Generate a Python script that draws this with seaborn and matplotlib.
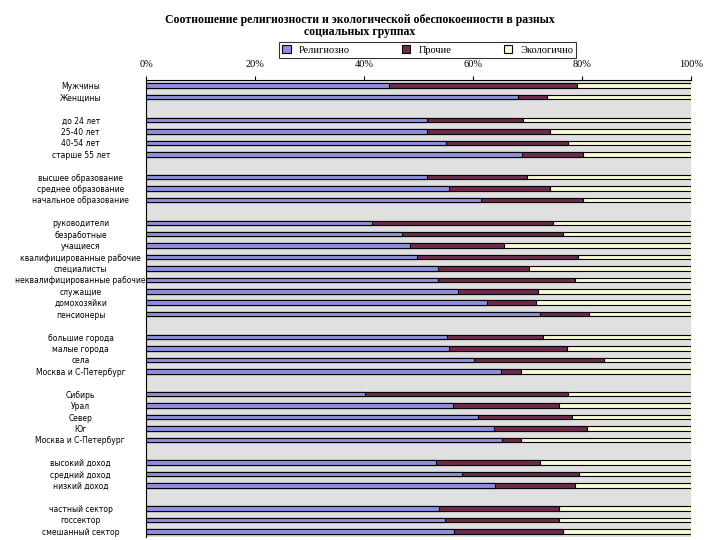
import pandas as pd
import seaborn as sns
import matplotlib.pyplot as plt

# группы (пустые строки - разделители между блоками)
groups = ['Мужчины', 'Женщины', '',
          'до 24 лет', '25-40 лет', '40-54 лет', 'старше 55 лет', ' ',
          'высшее образование', 'среднее образование', 'начальное образование', '  ',
          'руководители', 'безработные', 'учащиеся', 'квалифицированные рабочие',
          'специалисты', 'неквалифицированные рабочие', 'служащие', 'домохозяйки',
          'пенсионеры', '   ',
          'большие города', 'малые города', 'села', 'Москва и С-Петербург', '    ',
          'Сибирь', 'Урал', 'Север', 'Юг', 'Москва и С-Петербург ', '     ',
          'высокий доход', 'средний доход', 'низкий доход', '      ',
          'частный сектор', 'госсектор', 'смешанный сектор']

# доли в %, только для непустых строк
religious = [44.5, 68.2,
             51.5, 51.5, 55.0, 69.0,
             51.5, 55.6, 61.4,
             41.5, 46.9, 48.4, 49.8, 53.6, 53.6, 57.2, 62.5, 72.3,
             55.3, 55.6, 60.1, 65.1,
             40.2, 56.3, 61.0, 63.9, 65.3,
             53.3, 57.9, 64.0,
             53.8, 54.9, 56.5]
other = [34.5, 5.3,
         17.6, 22.6, 22.4, 11.2,
         18.5, 18.5, 18.8,
         33.2, 29.7, 17.3, 29.4, 16.7, 25.1, 14.7, 9.0, 8.9,
         17.6, 21.6, 24.0, 3.7,
         37.2, 19.5, 17.2, 17.0, 3.5,
         19.0, 21.6, 14.8,
         22.0, 20.9, 20.1]

names = [g for g in groups if g.strip() != '']
df = pd.DataFrame({'group': names, 'rel': religious, 'oth': other})
df['rel_oth'] = df['rel'] + df['oth']
df['total'] = 100.0

fig = plt.figure(figsize=(7.2, 5.4), dpi=100)
ax = fig.add_axes([0.2028, 0.0056, 0.7569, 0.8463])
ax.set_facecolor('#e0e0e0')

kw = dict(y='group', order=groups, orient='h', width=0.4, ax=ax,
          edgecolor='black', linewidth=0.8)
sns.barplot(data=df, x='total', color='#ffffcc', label='Экологично', **kw)
sns.barplot(data=df, x='rel_oth', color='#7a1f4f', label='Прочие', **kw)
sns.barplot(data=df, x='rel', color='#8080ef', label='Религиозно', **kw)
h, l = ax.get_legend_handles_labels()
if ax.legend_ is not None:
    ax.legend_.remove()

ax.set_xlim(0, 100)
ax.set_xticks([0, 20, 40, 60, 80, 100])
ax.set_xticklabels(['0%', '20%', '40%', '60%', '80%', '100%'], fontsize=7.5,
                   family='Liberation Serif')
ax.xaxis.tick_top()
ax.tick_params(axis='x', length=3, pad=5)
ax.tick_params(axis='y', length=0, labelsize=5.5, pad=47)
for t in ax.get_yticklabels():
    t.set_ha('center')
ax.set_xlabel('')
ax.set_ylabel('')
for s in ['right', 'bottom']:
    ax.spines[s].set_visible(False)
ax.spines['left'].set_color('black')
ax.spines['top'].set_color('black')

order = [l.index('Религиозно'), l.index('Прочие'), l.index('Экологично')]
leg = fig.legend([h[i] for i in order], [l[i] for i in order], ncol=3,
                 loc='center', bbox_to_anchor=(0.594, 0.907),
                 prop={'family': 'Liberation Serif', 'size': 7.5},
                 frameon=True, fancybox=False, edgecolor='black',
                 handlelength=0.8, handleheight=0.8, columnspacing=5,
                 borderpad=0.3)
leg.get_frame().set_linewidth(0.8)

fig.suptitle('Соотношение религиозности и экологической обеспокоенности в разных\nсоциальных группах',
             x=0.5, y=0.975, fontsize=8.5, fontweight='bold',
             family='Liberation Serif', linespacing=1.1)

fig.savefig('out.png', dpi=100)
